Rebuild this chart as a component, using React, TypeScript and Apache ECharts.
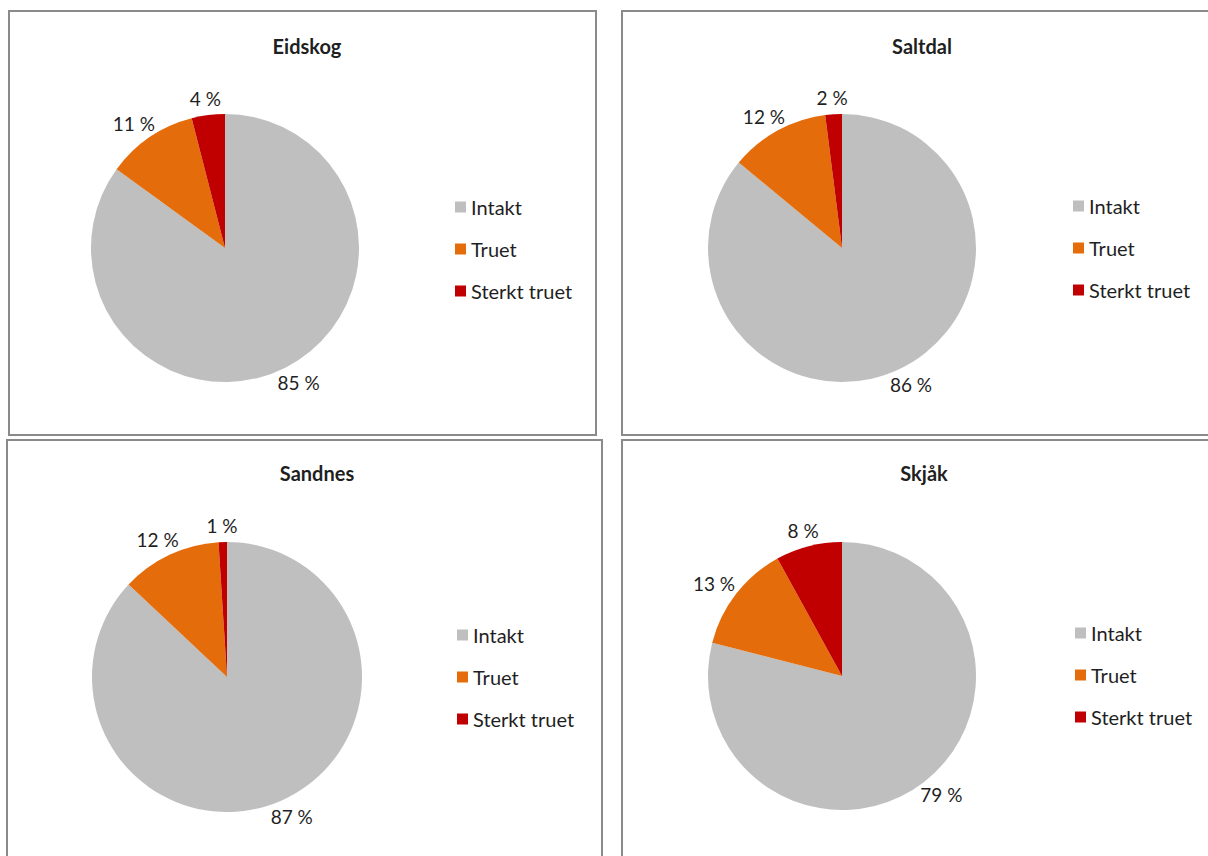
import React, { useEffect, useRef } from "react";
import * as echarts from "echarts";

const categories = ["Intakt", "Truet", "Sterkt truet"];
const regions = ["Eidskog", "Saltdal", "Sandnes", "Skjåk"];
const eidskogValues = [85, 11, 4];
const saltdalValues = [86, 12, 2];
const sandnesValues = [87, 12, 1];
const skjakValues = [79, 13, 8];
const seriesValues = [eidskogValues, saltdalValues, sandnesValues, skjakValues];

const colors = ["#BFBFBF", "#E46C0A", "#C00000"];
const FONT = "Lato, 'Noto Sans', sans-serif";
const TEXT = "#1F1F1F";
const LABEL_GAP = 7;
const ECHARTS_TEXT_OFFSET = 5;

// layout of the four panels (positions only)
const panels = [
  { box: [9, 11, 587, 424], center: [225, 248], radius: 134, title: [302, 31], legend: [455, 197] },
  { box: [622, 11, 620, 424], center: [842, 248], radius: 134, title: [917, 31], legend: [1073, 196] },
  { box: [7, 440, 595, 440], center: [227, 677], radius: 135, title: [312, 458], legend: [457, 625] },
  { box: [622, 440, 620, 440], center: [842, 676], radius: 134, title: [919, 458], legend: [1075, 623] },
];

export default function App() {
  const ref = useRef<HTMLDivElement>(null);
  useEffect(() => {
    if (!ref.current) return;
    const chart = echarts.init(ref.current, undefined, { renderer: "svg" });
    const option: any = {
      animation: false,
      backgroundColor: "#ffffff",
      color: colors,
      title: regions.map((r, i) => ({
        text: r,
        left: panels[i].title[0],
        top: panels[i].title[1],
        textAlign: "center",
        textStyle: { fontFamily: FONT, fontSize: 20, fontWeight: "bold", color: TEXT, lineHeight: 20 },
      })),
      legend: regions.map((r, i) => ({
        orient: "vertical",
        left: panels[i].legend[0],
        top: panels[i].legend[1],
        padding: 0,
        data: categories,
        icon: "rect",
        itemWidth: 11,
        itemHeight: 11,
        itemGap: 22,
        selectedMode: false,
        textStyle: { fontFamily: FONT, fontSize: 20, color: TEXT, lineHeight: 20 },
      })),
      graphic: panels.map((p) => ({
        type: "rect",
        shape: { x: p.box[0], y: p.box[1], width: p.box[2], height: p.box[3] },
        style: { fill: "none", stroke: "#8A8A8A", lineWidth: 2 },
        silent: true,
      })),
      series: regions.map((r, i) => ({
        type: "pie",
        name: r,
        center: panels[i].center,
        radius: panels[i].radius,
        startAngle: 90,
        clockwise: true,
        avoidLabelOverlap: false,
        label: {
          show: true,
          position: "outside",
          fontFamily: FONT,
          fontSize: 19,
          color: TEXT,
          formatter: (p: any) => Math.round(p.value) + " %",
        },
        labelLine: { show: false, length: LABEL_GAP, length2: 0 },
        labelLayout: (params: any) => {
          const rect = params.labelRect;
          const c = panels[params.seriesIndex].center;
          const ax =
            params.align === "right"
              ? rect.x + rect.width + ECHARTS_TEXT_OFFSET
              : params.align === "center"
              ? rect.x + rect.width / 2
              : rect.x - ECHARTS_TEXT_OFFSET;
          const ay = rect.y + rect.height / 2;
          const vx = ax - c[0];
          const vy = ay - c[1];
          const len = Math.sqrt(vx * vx + vy * vy) || 1;
          const dx = vx / len;
          const dy = vy / len;
          return {
            x: ax + (dx * rect.width) / 2,
            y: ay + (dy * rect.height) / 2,
            align: "center",
            verticalAlign: "middle",
          };
        },
        itemStyle: { borderWidth: 0 },
        emphasis: { disabled: true },
        data: categories.map((c, k) => ({ name: c, value: seriesValues[i][k] })),
      })),
    };
    chart.setOption(option);
    return () => chart.dispose();
  }, []);
  return (
    <div
      ref={ref}
      style={{ position: "absolute", left: 0, top: 0, width: 1208, height: 856 }}
    />
  );
}
